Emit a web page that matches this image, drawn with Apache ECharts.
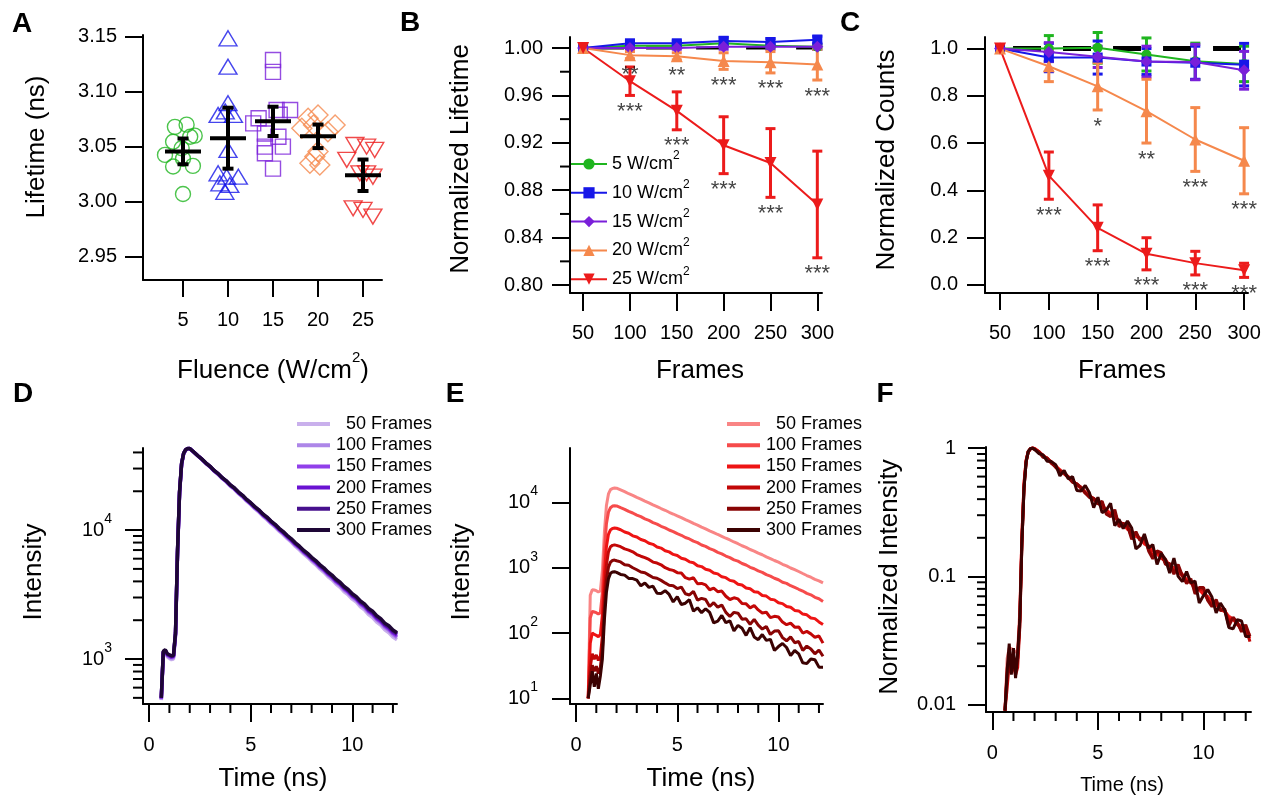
<!DOCTYPE html>
<html>
<head>
<meta charset="utf-8">
<script src="https://cdn.jsdelivr.net/npm/echarts@6.0.0/dist/echarts.min.js"></script>
<style>
html,body{margin:0;padding:0;background:#ffffff;}
#chart{width:1274px;height:797px;}
</style>
</head>
<body>
<div id="chart"></div>
<script>
// ---------------- Panel A data ----------------
const aCats = [5, 10, 15, 20, 25];
const aTicksY = [2.95, 3.00, 3.05, 3.10, 3.15];
const aVals5  = [3.068, 3.070, 3.060, 3.0545, 3.0485, 3.0425, 3.032, 3.039, 3.0325, 3.059, 3.007];
const aOff5   = [-0.9, 0.4, 1.3, -1.1, -0.15, -2.0, -1.1, 0, 1.1, 0.8, 0];
const aVals10 = [3.1485, 3.1227, 3.0895, 3.0788, 3.0788, 3.082, 3.047, 3.0258, 3.0227, 3.0227, 3.0167, 3.0152, 3.009];
const aOff10  = [0, 0, 0, -1.1, 0.6, -0.3, 0, -1.1, -0.15, 1.15, -0.9, 0.2, -0.35];
const aVals15 = [3.1288, 3.118, 3.0712, 3.0758, 3.0833, 3.0833, 3.079, 3.062, 3.059, 3.050, 3.044, 3.030, 3.050];
const aOff15  = [0, 0, -2.2, -1.6, 0.4, 1.9, 0.75, -0.9, 0.6, 1.1, -0.9, 0, -0.9];
const aVals20 = [3.0758, 3.0788, 3.0697, 3.0667, 3.0697, 3.0636, 3.0455, 3.0349, 3.0333, 3.041];
const aOff20  = [-1.1, 0, 1.9, -1.8, -0.5, 1.1, 0, -0.9, 0.2, -0.35];
const aVals25 = [3.0515, 3.050, 3.047, 3.038, 3.0258, 3.0227, 3.0227, 2.994, 2.9925, 2.9864, 3.0258];
const aOff25  = [-0.9, 0.4, 1.3, -1.8, -0.35, 1.1, 2.2, -1.1, 0, 1.1, 0.4];
const aMean = [3.0457, 3.0577, 3.073, 3.0594, 3.024];
const aSem  = [0.0117, 0.0277, 0.0133, 0.0107, 0.0143];

// ---------------- Panel B / C data ----------------
const frames = [50, 100, 150, 200, 250, 300];
const bTicksY = [0.80, 0.84, 0.88, 0.92, 0.96, 1.00];
const bMinorY = [0.82, 0.86, 0.90, 0.94, 0.98];
const b5  = [1.000, 1.002, 1.002, 1.004, 1.002, 1.001];
const b5e = [0, 0.001, 0.001, 0.002, 0.002, 0.002];
const b10  = [1.000, 1.004, 1.004, 1.006, 1.005, 1.007];
const b10e = [0, 0.002, 0.002, 0.003, 0.003, 0.003];
const b15  = [1.000, 1.000, 1.000, 1.001, 1.001, 1.001];
const b15e = [0, 0.001, 0.001, 0.002, 0.002, 0.002];
const b20  = [1.000, 0.994, 0.993, 0.989, 0.988, 0.986];
const b20e = [0, 0.003, 0.003, 0.007, 0.009, 0.013];
const b25  = [1.000, 0.972, 0.947, 0.918, 0.903, 0.868];
const b25e = [0, 0.012, 0.016, 0.024, 0.029, 0.045];
const bStars20 = ['', '**', '**', '***', '***', '***'];
const bStars25 = ['', '***', '***', '***', '***', '***'];

const cTicksY = [0.0, 0.2, 0.4, 0.6, 0.8, 1.0];
const c5  = [1.0, 1.0, 1.003, 0.975, 0.946, 0.935];
const c5e = [0, 0.055, 0.065, 0.07, 0.077, 0.075];
const c10  = [1.0, 0.962, 0.962, 0.945, 0.94, 0.932];
const c10e = [0, 0.06, 0.07, 0.055, 0.07, 0.09];
const c15  = [1.0, 0.985, 0.965, 0.945, 0.943, 0.908];
const c15e = [0, 0.04, 0.045, 0.065, 0.075, 0.08];
const c20  = [1.0, 0.925, 0.84, 0.735, 0.615, 0.525];
const c20e = [0, 0.065, 0.10, 0.135, 0.135, 0.14];
const c25  = [1.0, 0.462, 0.241, 0.131, 0.0915, 0.061];
const c25e = [0, 0.10, 0.097, 0.068, 0.05, 0.03];
const cStars20 = ['', '', '*', '**', '***', '***'];
const cStars25 = ['', '***', '***', '***', '***', '***'];

const fluenceNames = ['5 W/cm2', '10 W/cm2', '15 W/cm2', '20 W/cm2', '25 W/cm2'];

// ---------------- Panel D / E / F data ----------------
const timeNs = [0.6,0.7,0.8,0.9,1.0,1.1,1.2,1.3,1.4,1.5,1.6,1.7,1.8,1.9,2.0,
  2.2,2.4,2.6,2.8,3.0,3.2,3.4,3.6,3.8,4.0,4.2,4.4,4.6,4.8,5.0,5.2,5.4,5.6,5.8,6.0,
  6.2,6.4,6.6,6.8,7.0,7.2,7.4,7.6,7.8,8.0,8.2,8.4,8.6,8.8,9.0,9.2,9.4,9.6,9.8,10.0,
  10.2,10.4,10.6,10.8,11.0,11.2,11.4,11.6,11.8,12.0,12.2];
const frameLabels = ['50 Frames', '100 Frames', '150 Frames', '200 Frames', '250 Frames', '300 Frames'];
const timeTicks = [0, 5, 10];
const timeMinor = [1, 2, 3, 4, 6, 7, 8, 9, 11, 12];

const dTicksY = [1000, 10000];
const dLabelsY = ['10{s|3}', '10{s|4}'];
const dMinorY = [500, 600, 700, 800, 900, 2000, 3000, 4000, 5000, 6000, 7000, 8000, 9000, 20000, 30000, 40000];
const d50 = [480,1100,1110,1040,1010,990,1000,1500,6600,19200,32000,38800,41500,42500,42700,
  40200,37520,35250,32790,30830,28590,26950,25020,23590,21870,20650,19140,18030,16730,15720,14630,13780,12780,12040,11200,10530,9790,9200,8570,8050,7470,7020,6530,6150,5720,5380,4990,4700,4360,4110,3810,3600,3320,3140,2910,2760,2540,2410,2210,2100,1935,1830,1685,1600,1480,1410];
const d100 = [485,1110,1130,1060,1030,1010,1020,1520,6700,19400,32300,39000,41700,42700,42800,
  40230,37580,35300,32850,30900,28680,27050,25130,23710,22000,20790,19290,18180,16890,15880,14790,13940,12950,12200,11360,10690,9950,9360,8720,8200,7620,7170,6670,6290,5860,5510,5120,4830,4480,4230,3920,3710,3430,3240,3010,2850,2630,2490,2290,2180,2010,1900,1750,1660,1540,1460];
const d150 = [490,1120,1150,1070,1050,1030,1040,1550,6800,19600,32500,39200,41800,42800,42850,
  40250,37650,35400,32950,31020,28790,27170,25260,23840,22140,20930,19430,18320,17030,16010,14920,14070,13080,12320,11470,10800,10050,9460,8820,8290,7710,7260,6750,6370,5930,5590,5190,4900,4550,4290,3980,3770,3490,3300,3060,2900,2680,2540,2340,2220,2050,1940,1790,1700,1580,1500];
const d200 = [495,1130,1160,1080,1060,1040,1050,1570,6900,19800,32700,39300,41900,42900,42900,
  40270,37680,35450,33020,31100,28880,27270,25360,23950,22250,21040,19540,18440,17140,16130,15030,14180,13190,12430,11580,10910,10150,9560,8920,8390,7800,7350,6840,6450,6010,5660,5270,4970,4620,4360,4040,3830,3550,3360,3110,2950,2730,2590,2380,2260,2090,1980,1830,1740,1610,1540];
const d250 = [500,1140,1170,1090,1070,1050,1060,1580,6950,19900,32800,39400,42000,43000,42900,
  40290,37700,35480,33070,31150,28950,27340,25430,24020,22320,21120,19610,18510,17210,16210,15110,14260,13260,12510,11660,10990,10230,9640,8990,8460,7870,7410,6900,6510,6070,5720,5320,5020,4670,4410,4090,3870,3590,3400,3150,2990,2770,2630,2420,2300,2130,2020,1860,1770,1650,1570];
const d300 = [500,1150,1180,1100,1080,1060,1070,1600,7000,20000,33000,39500,42000,43000,42900,
  40300,37700,35500,33100,31200,29000,27400,25500,24100,22400,21200,19700,18600,17300,16300,15200,14350,13350,12600,11750,11080,10320,9730,9080,8550,7960,7500,6990,6600,6150,5800,5400,5100,4740,4480,4160,3940,3650,3460,3210,3050,2820,2680,2470,2350,2170,2060,1900,1810,1680,1600];

const eTicksY = [10, 100, 1000, 10000];
const eLabelsY = ['10{s|1}', '10{s|2}', '10{s|3}', '10{s|4}'];
const e50 = [10,380,460,455,445,425,440,900,3500,9000,13500,15700,16400,16600,16500,
  15550,14600,13600,12800,11950,11250,10480,9850,9200,8650,8070,7590,7070,6650,6220,5840,5450,5120,4780,4490,4190,3940,3680,3460,3230,3030,2830,2660,2480,2330,2170,2050,1900,1800,1670,1580,1470,1380,1290,1215,1130,1065,990,935,875,815,760,715,665,630,585];
const e100 = [10,170,215,210,205,195,205,420,1800,4700,7100,8300,8800,8900,8850,
  8320,7850,7280,6890,6390,6050,5600,5300,4920,4660,4310,4080,3780,3580,3320,3140,2900,2760,2550,2420,2230,2120,1960,1860,1720,1630,1510,1430,1320,1260,1160,1100,1015,965,895,850,785,745,690,655,600,575,530,500,468,440,405,385,352,335,305];
const e150 = [10,70,100,95,92,88,95,190,820,2100,3250,3800,4000,4050,4020,
  3820,3520,3380,3080,2960,2700,2590,2370,2280,2080,2000,1820,1750,1600,1540,1400,1350,1230,1190,1075,1040,945,915,830,805,725,705,640,620,560,545,490,475,430,420,375,368,330,322,290,282,255,248,222,218,195,190,170,166,148,135];
const e200 = [10,30,48,40,46,38,44,90,400,1100,1750,2100,2200,2240,2200,
  2100,1940,1860,1750,1590,1500,1430,1340,1220,1180,1110,1000,940,910,840,833,704,669,703,569,575,547,460,487,430,439,366,326,346,333,284,280,243,264,226,203,208,172,180,176,147,134,142,123,124,100,106,97,86,90,70];
const e250 = [10,22,32,26,31,24,30,55,240,640,1020,1220,1290,1310,1280,
  1227,1110,1095,1000,930,860,840,770,710,690,640,585,540,530,480,506,399,383,434,319,339,326,255,292,249,268,207,179,207,201,163,165,136,162,132,115,126,95,107,108,85,76,87,71,74,54,63,57,48,55,44];
const e300 = [10,16,26,15,24,14,22,40,160,420,680,820,860,870,850,
  790,770,686,683,646,528,584,500,522,407,403,445,390,299,360,273,286,324,216,243,205,235,207,143,152,186,144,154,108,131,118,92,121,87,79,95,77,80,54,62,69,60,45,54,48,35,34,40,39,30,30];

const fTicksY = [0.01, 0.1, 1];
const fLabelsY = ['0.01', '0.1', '1'];
const fMinorY = [0.02,0.03,0.04,0.05,0.06,0.07,0.08,0.09,0.2,0.3,0.4,0.5,0.6,0.7,0.8,0.9];
const f50 = [0.009,0.0229,0.0277,0.0274,0.0268,0.0256,0.0265,0.054,0.211,0.542,0.813,0.946,0.988,1.0,0.994,
  .937,.880,.819,.771,.720,.678,.631,.593,.554,.521,.486,.457,.426,.401,.375,.352,.328,.308,.288,.270,.252,.237,.222,.208,.195,.183,.170,.160,.149,.140,.131,.123,.114,.108,.101,.095,.089,.083,.078,.073,.068,.064,.060,.056,.053,.049,.046,.043,.040,.038,.035];
const f100 = [0.009,0.0191,0.0242,0.0236,0.023,0.0219,0.023,0.047,0.202,0.528,0.798,0.933,0.989,1.0,0.994,
  .935,.882,.818,.774,.718,.680,.629,.596,.553,.524,.484,.458,.425,.402,.373,.353,.326,.310,.287,.272,.251,.238,.220,.209,.193,.183,.170,.161,.148,.142,.130,.124,.114,.108,.101,.096,.088,.084,.078,.074,.067,.065,.060,.056,.053,.049,.046,.043,.040,.038,.034];
const f150 = [0.009,0.0173,0.0247,0.0235,0.0227,0.0217,0.0235,0.047,0.202,0.519,0.802,0.938,0.988,1.0,0.993,
  .943,.869,.835,.760,.731,.667,.640,.585,.563,.514,.494,.449,.432,.395,.380,.346,.333,.304,.294,.265,.257,.233,.226,.205,.199,.179,.174,.158,.153,.138,.135,.121,.117,.106,.104,.093,.091,.081,.080,.072,.070,.063,.061,.055,.054,.048,.047,.042,.041,.037,.033];
const f200 = [0.009,0.0134,0.0214,0.0179,0.0205,0.017,0.0196,0.040,0.179,0.491,0.781,0.938,0.982,1.0,0.982,
  .938,.866,.830,.781,.710,.670,.638,.598,.545,.527,.496,.446,.420,.406,.375,.372,.314,.299,.314,.254,.257,.244,.205,.217,.192,.196,.163,.146,.154,.149,.127,.125,.108,.118,.101,.091,.093,.077,.080,.079,.066,.060,.063,.055,.055,.045,.047,.043,.038,.040,.031];
const f250 = [0.009,0.0168,0.0244,0.0198,0.0237,0.0183,0.0229,0.042,0.183,0.489,0.779,0.931,0.985,1.0,0.977,
  .937,.847,.836,.763,.710,.656,.641,.588,.542,.527,.489,.447,.412,.405,.366,.386,.305,.292,.331,.244,.259,.249,.195,.223,.190,.205,.158,.137,.158,.153,.124,.126,.104,.124,.101,.088,.096,.073,.082,.082,.065,.058,.066,.054,.056,.041,.048,.044,.037,.042,.034];
const f300 = [0.009,0.0184,0.0299,0.0172,0.0276,0.0161,0.0253,0.046,0.184,0.483,0.782,0.943,0.989,1.0,0.977,
  .908,.885,.789,.785,.743,.607,.671,.575,.600,.468,.463,.511,.448,.344,.414,.314,.329,.372,.248,.279,.236,.270,.238,.164,.175,.214,.166,.177,.124,.151,.136,.106,.139,.100,.091,.109,.089,.092,.062,.071,.079,.069,.052,.062,.055,.040,.039,.046,.045,.034,.034];

// ---------------- styling ----------------
const FONT = '"Liberation Sans", Arial, Helvetica, sans-serif';
const COL = {g: '#1fb51f', b: '#1717e8', p: '#7a1fd9', o: '#f5884c', r: '#ec1b1b'};
const dColors = ['#c9b0ec', '#ad86e8', '#9140ea', '#6a12d2', '#47118d', '#1e0636'];
const eColors = ['#f98585', '#f64b4b', '#ee1414', '#c20707', '#880404', '#3b0202'];
const TICKFONT = 20;

function pickLabel(vals, labels) {
  return function (v) {
    for (let i = 0; i < vals.length; i++) {
      if (Math.abs(v - vals[i]) <= Math.abs(vals[i]) * 1e-6 + 1e-12) return labels[i];
    }
    return '';
  };
}

function mkAxis(gi, type, min, max, tickVals, fmt, tickLen, margin, extra) {
  return Object.assign({
    gridIndex: gi, type: type, min: min, max: max,
    axisLine: {show: true, onZero: false, lineStyle: {color: '#000', width: 2}},
    axisTick: {show: true, inside: false, length: tickLen, lineStyle: {color: '#000', width: 2}, customValues: tickVals},
    axisLabel: {show: true, margin: margin, color: '#000', fontSize: TICKFONT, fontFamily: FONT,
      customValues: tickVals, formatter: fmt,
      rich: {s: {fontSize: 14, color: '#000', fontFamily: FONT, padding: [0, 0, 22, 0]}}},
    splitLine: {show: false}, minorTick: {show: false}, minorSplitLine: {show: false}
  }, extra || {});
}

function tickSeries(ai, pts, dx, dy) {
  return {
    type: 'custom', xAxisIndex: ai, yAxisIndex: ai, clip: false, silent: true, z: 10,
    data: pts,
    renderItem: function (params, api) {
      const c = api.coord([api.value(0), api.value(1)]);
      return {type: 'line', shape: {x1: c[0], y1: c[1], x2: c[0] + dx, y2: c[1] + dy},
        style: {stroke: '#000', lineWidth: 2}};
    }
  };
}

function aScatter(cat, vals, offs, symbol, size, color, rot) {
  return {
    type: 'scatter', xAxisIndex: 0, yAxisIndex: 0, symbol: symbol, symbolSize: size, symbolRotate: rot || 0,
    itemStyle: {color: 'rgba(255,255,255,0)', borderColor: color, borderWidth: 1.4},
    data: vals.map(function (v, i) { return [cat + offs[i], v]; }), z: 2, silent: true
  };
}

function errSeries(ai, vals, errs, color, lw, cap, z) {
  const data = [];
  frames.forEach(function (f, i) { if (errs[i] > 0) data.push([f, vals[i], errs[i]]); });
  return {
    type: 'custom', xAxisIndex: ai, yAxisIndex: ai, z: z, silent: true, clip: false,
    dimensions: ['x', 'y', 'e'], encode: {x: 0, y: 1}, data: data,
    renderItem: function (params, api) {
      const x = api.value(0), y = api.value(1), e = api.value(2);
      const t = api.coord([x, y + e]), b = api.coord([x, y - e]);
      return {type: 'group', children: [
        {type: 'line', shape: {x1: t[0], y1: t[1], x2: b[0], y2: b[1]}, style: {stroke: color, lineWidth: lw}},
        {type: 'line', shape: {x1: t[0] - cap, y1: t[1], x2: t[0] + cap, y2: t[1]}, style: {stroke: color, lineWidth: lw}},
        {type: 'line', shape: {x1: b[0] - cap, y1: b[1], x2: b[0] + cap, y2: b[1]}, style: {stroke: color, lineWidth: lw}}
      ]};
    }
  };
}

function fluLine(ai, name, vals, color, symbol, size, rot, lw) {
  return {
    type: 'line', name: name, xAxisIndex: ai, yAxisIndex: ai, z: 3, silent: true,
    data: frames.map(function (f, i) { return [f, vals[i]]; }),
    symbol: symbol, symbolSize: size, symbolRotate: rot, showSymbol: true,
    color: color, lineStyle: {color: color, width: lw}, itemStyle: {color: color},
    emphasis: {disabled: true}
  };
}

function starSeries(ai, vals, errs, labels) {
  const data = [];
  frames.forEach(function (f, i) {
    if (labels[i]) data.push({value: [f, vals[i] - errs[i]], label: {formatter: labels[i]}});
  });
  return {
    type: 'scatter', xAxisIndex: ai, yAxisIndex: ai, symbolSize: 1, silent: true, z: 6,
    itemStyle: {color: 'rgba(0,0,0,0)'},
    label: {show: true, position: 'bottom', distance: 5, fontSize: 22, color: '#111', fontFamily: FONT},
    data: data
  };
}

function decaySeries(ai, name, vals, color, lw) {
  return {
    type: 'line', name: name, xAxisIndex: ai, yAxisIndex: ai, z: 3, silent: true,
    data: timeNs.map(function (t, i) { return [t, vals[i]]; }),
    symbol: 'none', showSymbol: false, color: color,
    lineStyle: {color: color, width: lw}, itemStyle: {color: color}, emphasis: {disabled: true}
  };
}

function gtext(x, y, text, size, opt) {
  opt = opt || {};
  const style = {text: text, fontSize: size, fontFamily: FONT, fontWeight: opt.bold ? 'bold' : 'normal',
    fill: '#000', align: 'center', verticalAlign: 'middle', textAlign: 'center', textVerticalAlign: 'middle'};
  if (opt.rich) style.rich = opt.rich;
  return {type: 'text', x: x, y: y, rotation: opt.rot || 0, silent: true, z: 20, style: style};
}

const supRich = {a: {fontSize: 26, fontFamily: FONT, fill: '#000', color: '#000'},
                 s: {fontSize: 15, fontFamily: FONT, fill: '#000', color: '#000', padding: [0, 0, 26, 0]}};

const dNames = frameLabels.map(function (l) { return 'D ' + l; });
const eNames = frameLabels.map(function (l) { return 'E ' + l; });
const fNames = frameLabels.map(function (l) { return 'F ' + l; });
const dData = [d50, d100, d150, d200, d250, d300];
const eData = [e50, e100, e150, e200, e250, e300];
const fData = [f50, f100, f150, f200, f250, f300];

const series = [];
// A
series.push(aScatter(5, aVals5, aOff5, 'circle', 15, COL.g, 0));
series.push(aScatter(10, aVals10, aOff10, 'triangle', [18, 15], COL.b, 0));
series.push(aScatter(15, aVals15, aOff15, 'rect', 15, COL.p, 0));
series.push(aScatter(20, aVals20, aOff20, 'diamond', [20, 20], COL.o, 0));
series.push(aScatter(25, aVals25, aOff25, 'triangle', [18, 15], COL.r, 180));
series.push({
  type: 'custom', xAxisIndex: 0, yAxisIndex: 0, z: 5, silent: true, clip: false,
  dimensions: ['x', 'y', 'e'], encode: {x: 0, y: 1},
  data: aCats.map(function (c, i) { return [c, aMean[i], aSem[i]]; }),
  renderItem: function (params, api) {
    const x = api.value(0), m = api.value(1), e = api.value(2);
    const c = api.coord([x, m]), t = api.coord([x, m + e]), b = api.coord([x, m - e]);
    const st = function () { return {stroke: '#000', lineWidth: 4}; };
    return {type: 'group', children: [
      {type: 'line', shape: {x1: c[0] - 18, y1: c[1], x2: c[0] + 18, y2: c[1]}, style: st()},
      {type: 'line', shape: {x1: t[0], y1: t[1], x2: b[0], y2: b[1]}, style: st()},
      {type: 'line', shape: {x1: t[0] - 5.5, y1: t[1], x2: t[0] + 5.5, y2: t[1]}, style: st()},
      {type: 'line', shape: {x1: b[0] - 5.5, y1: b[1], x2: b[0] + 5.5, y2: b[1]}, style: st()}
    ]};
  }
});

// B
series.push({type: 'line', xAxisIndex: 1, yAxisIndex: 1, z: 1, silent: true, symbol: 'none',
  data: [[frames[0], 1], [frames[5], 1]], lineStyle: {color: '#000', width: 3, type: [28, 22], dashOffset: 37}});
const bVals = [b5, b10, b15, b20, b25], bErrs = [b5e, b10e, b15e, b20e, b25e];
const symDefs = [['circle', 10, 0], ['rect', 10, 0], ['diamond', 12, 0], ['triangle', 12, 0], ['triangle', 12, 180]];
const colList = [COL.g, COL.b, COL.p, COL.o, COL.r];
for (let k = 0; k < 5; k++) {
  series.push(errSeries(1, bVals[k], bErrs[k], colList[k], 3, 5, 2));
  series.push(fluLine(1, fluenceNames[k], bVals[k], colList[k], symDefs[k][0], symDefs[k][1], symDefs[k][2], 2));
}
series.push(starSeries(1, b20, b20e, bStars20));
series.push(starSeries(1, b25, b25e, bStars25));
series.push(tickSeries(1, bMinorY.map(function (v) { return [36, v]; }), -10, 0));

// C
series.push({type: 'line', xAxisIndex: 2, yAxisIndex: 2, z: 1, silent: true, symbol: 'none',
  data: [[frames[0], 1], [frames[5], 1]], lineStyle: {color: '#000', width: 5, type: [28, 22], dashOffset: 37}});
const cVals = [c5, c10, c15, c20, c25], cErrs = [c5e, c10e, c15e, c20e, c25e];
for (let k = 0; k < 5; k++) {
  series.push(errSeries(2, cVals[k], cErrs[k], colList[k], 3, 5, 2));
  series.push(fluLine(2, 'C ' + fluenceNames[k], cVals[k], colList[k], symDefs[k][0], symDefs[k][1], symDefs[k][2], 2));
}
series.push(starSeries(2, c20, c20e, cStars20));
series.push(starSeries(2, c25, c25e, cStars25));

// D, E, F
for (let k = 0; k < 6; k++) series.push(decaySeries(3, dNames[k], dData[k], dColors[k], 3.5));
for (let k = 0; k < 6; k++) series.push(decaySeries(4, eNames[k], eData[k], eColors[k], 3));
for (let k = 0; k < 6; k++) series.push(decaySeries(5, fNames[k], fData[k], eColors[k], 3));
series.push(tickSeries(3, dMinorY.map(function (v) { return [-0.3, v]; }), -10, 0));
series.push(tickSeries(3, timeMinor.map(function (v) { return [v, 448]; }), 0, 9));
series.push(tickSeries(4, timeMinor.map(function (v) { return [v, 8.18]; }), 0, 9));
series.push(tickSeries(5, fMinorY.map(function (v) { return [-0.3, v]; }), -9, 0));
series.push(tickSeries(5, timeMinor.map(function (v) { return [v, 0.00878]; }), 0, 9));

const fmt2 = function (v) { return v.toFixed(2); };
const fmt1 = function (v) { return v.toFixed(1); };
const fmtInt = function (v) { return String(Math.round(v)); };

const legendFrames = function (names, left) {
  return {
    data: names, left: left, top: 415, orient: 'vertical', padding: 0, itemGap: 3.2,
    icon: 'rect', itemWidth: 33, itemHeight: 4, selectedMode: false,
    formatter: function (n) { return '{a|' + frameLabels[names.indexOf(n)] + '}'; },
    textStyle: {fontSize: 18, color: '#000', fontFamily: FONT,
      rich: {a: {fontSize: 18, color: '#000', fontFamily: FONT, width: 97, align: 'right', lineHeight: 21}}}
  };
};

const option = {
  animation: false,
  backgroundColor: '#ffffff',
  textStyle: {fontFamily: FONT},
  grid: [
    {left: 143, top: 35, width: 239, height: 245, containLabel: false, outerBoundsMode: 'none'},
    {left: 570, top: 37, width: 252, height: 256, containLabel: false, outerBoundsMode: 'none'},
    {left: 985, top: 37, width: 263, height: 256, containLabel: false, outerBoundsMode: 'none'},
    {left: 143, top: 448, width: 254, height: 256, containLabel: false, outerBoundsMode: 'none'},
    {left: 570, top: 448, width: 253, height: 256, containLabel: false, outerBoundsMode: 'none'},
    {left: 986, top: 447, width: 265, height: 265, containLabel: false, outerBoundsMode: 'none'}
  ],
  xAxis: [
    mkAxis(0, 'value', 0.556, 27.11, aCats, fmtInt, 17, 30),
    mkAxis(1, 'value', 36, 305, frames, fmtInt, 18, 30),
    mkAxis(2, 'value', 34.6, 304, frames, fmtInt, 17, 30),
    mkAxis(3, 'value', -0.3, 12.2, timeTicks, fmtInt, 18, 31),
    mkAxis(4, 'value', -0.3, 12.2, timeTicks, fmtInt, 18, 31),
    mkAxis(5, 'value', -0.3, 12.25, timeTicks, fmtInt, 18, 31)
  ],
  yAxis: [
    mkAxis(0, 'value', 2.9288, 3.1515, aTicksY, fmt2, 18, 26),
    mkAxis(1, 'value', 0.7933, 1.0093, bTicksY, fmt2, 18, 27),
    mkAxis(2, 'value', -0.035, 1.049, cTicksY, fmt1, 18, 27),
    mkAxis(3, 'log', 448, 43300, dTicksY, pickLabel(dTicksY, dLabelsY), 18, 31, {logBase: 10}),
    mkAxis(4, 'log', 8.18, 68200, eTicksY, pickLabel(eTicksY, eLabelsY), 18, 32, {logBase: 10}),
    mkAxis(5, 'log', 0.00878, 1.02, fTicksY, pickLabel(fTicksY, fLabelsY), 18, 30, {logBase: 10})
  ],
  legend: [
    {
      data: fluenceNames, left: 570, top: 150, orient: 'vertical', padding: 0, itemGap: 5.8,
      itemWidth: 36, itemHeight: 14, selectedMode: false,
      formatter: function (n) { return n.replace('cm2', 'cm{s|2}'); },
      textStyle: {fontSize: 18, color: '#000', fontFamily: FONT,
        rich: {s: {fontSize: 12, color: '#000', fontFamily: FONT, padding: [0, 0, 16, 0]}}}
    },
    legendFrames(dNames, 297),
    legendFrames(eNames, 727)
  ],
  graphic: [
    gtext(22, 24, 'A', 28, {bold: true}),
    gtext(410, 23, 'B', 28, {bold: true}),
    gtext(850, 23, 'C', 28, {bold: true}),
    gtext(23, 394, 'D', 28, {bold: true}),
    gtext(455, 394, 'E', 28, {bold: true}),
    gtext(885, 394, 'F', 28, {bold: true}),
    gtext(37, 147, 'Lifetime (ns)', 26, {rot: Math.PI / 2}),
    gtext(273, 371, '{a|Fluence (W/cm}{s|2}{a|)}', 26, {rich: supRich}),
    gtext(461, 159, 'Normalized Lifetime', 26, {rot: Math.PI / 2}),
    gtext(700, 371, 'Frames', 26),
    gtext(887, 160, 'Normalized Counts', 26, {rot: Math.PI / 2}),
    gtext(1122, 371, 'Frames', 26),
    gtext(34, 572, 'Intensity', 26, {rot: Math.PI / 2}),
    gtext(273, 779, 'Time (ns)', 26),
    gtext(462, 572, 'Intensity', 26, {rot: Math.PI / 2}),
    gtext(701, 779, 'Time (ns)', 26),
    gtext(890, 577, 'Normalized Intensity', 26, {rot: Math.PI / 2}),
    gtext(1122, 785, 'Time (ns)', 20)
  ],
  series: series
};

const chart = echarts.init(document.getElementById('chart'), null, {renderer: 'canvas', width: 1274, height: 797});
chart.setOption(option);
</script>
</body>
</html>
